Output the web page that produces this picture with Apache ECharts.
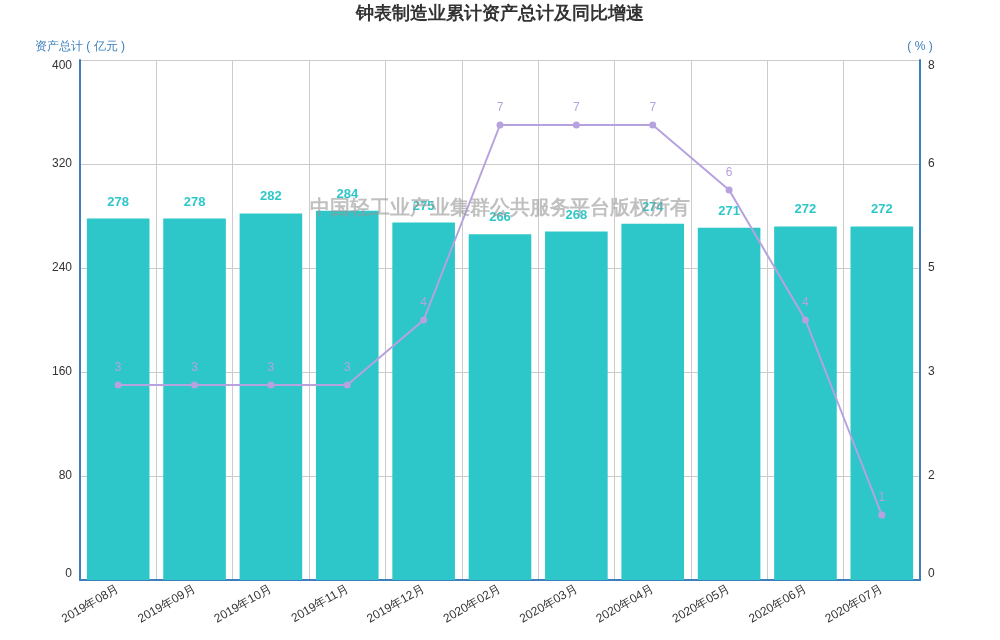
<!DOCTYPE html>
<html>
<head>
<meta charset="utf-8">
<title>钟表制造业累计资产总计及同比增速</title>
<script src="https://cdn.jsdelivr.net/npm/echarts@6/dist/echarts.min.js"></script>
<style>
    html, body { margin: 0; padding: 0; background: #fff; }
    #chart { width: 1000px; height: 640px; }
</style>
</head>
<body>
<div id="chart"></div>
<script>
// 数据
const months = ['2019年08月', '2019年09月', '2019年10月', '2019年11月', '2019年12月',
    '2020年02月', '2020年03月', '2020年04月', '2020年05月', '2020年06月', '2020年07月'];
const assetTotal = [278, 278, 282, 284, 275, 266, 268, 274, 271, 272, 272];
const growthRate = [3, 3, 3, 3, 4, 7, 7, 7, 6, 4, 1];

const axisBlue = '#3d7fbd';
const barColor = '#2ec7c9';
const lineColor = '#b6a2de';

// 首尾刻度标签向内偏移
const edgeRich = {
    top: { padding: [12, 0, 0, 0], color: '#333' },
    bot: { padding: [0, 0, 12, 0], color: '#333' }
};
function edgeLabel(text, v, min, max) {
    if (v === max) return '{top|' + text + '}';
    if (v === min) return '{bot|' + text + '}';
    return text;
}

const chart = echarts.init(document.getElementById('chart'));

chart.setOption({
    animation: false,
    title: {
        text: '钟表制造业累计资产总计及同比增速',
        left: 'center',
        top: 0,
        textStyle: { fontSize: 18, fontWeight: 'bold', color: '#333' }
    },
    grid: { left: 80, right: 80, top: 60, bottom: 60 },
    graphic: [{
        type: 'text',
        left: 'center',
        top: 198,
        z: 100,
        style: {
            text: '中国轻工业产业集群公共服务平台版权所有',
            fontSize: 20,
            fontWeight: 'bold',
            fill: 'rgba(150,150,150,0.6)'
        }
    }],
    xAxis: {
        type: 'category',
        data: months,
        axisLine: { lineStyle: { color: axisBlue, width: 2 } },
        axisTick: { lineStyle: { color: '#333' } },
        axisLabel: { rotate: 30, color: '#333', fontSize: 12 },
        splitLine: { show: true, lineStyle: { color: '#ccc' } }
    },
    yAxis: [{
        type: 'value',
        name: '资产总计 ( 亿元 )',
        nameGap: 7,
        nameTextStyle: { color: axisBlue, fontSize: 12 },
        min: 0,
        max: 400,
        interval: 80,
        axisLine: { show: true, lineStyle: { color: axisBlue, width: 2 } },
        axisTick: { show: false },
        axisLabel: {
            color: '#333',
            rich: edgeRich,
            formatter: v => edgeLabel(String(v), v, 0, 400)
        },
        splitLine: { lineStyle: { color: '#ccc' } }
    }, {
        type: 'value',
        name: '( % )',
        nameGap: 7,
        nameTextStyle: { color: axisBlue, fontSize: 12 },
        min: 0,
        max: 8,
        interval: 1.6,
        axisLine: { show: true, lineStyle: { color: axisBlue, width: 2 } },
        axisTick: { show: false },
        axisLabel: {
            color: '#333',
            rich: edgeRich,
            formatter: v => edgeLabel(v.toFixed(0), v, 0, 8)
        },
        splitLine: { show: false }
    }],
    series: [{
        name: '资产总计',
        type: 'bar',
        data: assetTotal,
        barCategoryGap: '18%',
        itemStyle: { color: barColor },
        label: {
            show: true,
            position: 'top',
            distance: 10,
            color: barColor,
            fontSize: 13,
            fontWeight: 'bold'
        }
    }, {
        name: '同比增速',
        type: 'line',
        yAxisIndex: 1,
        data: growthRate,
        symbol: 'circle',
        symbolSize: 7,
        itemStyle: { color: lineColor },
        lineStyle: { color: lineColor, width: 2 },
        label: {
            show: true,
            position: 'top',
            distance: 8,
            color: lineColor,
            fontSize: 12,
            formatter: p => Math.round(p.value)
        }
    }]
});

window.addEventListener('resize', function () {
    chart.resize();
});
</script>
</body>
</html>
